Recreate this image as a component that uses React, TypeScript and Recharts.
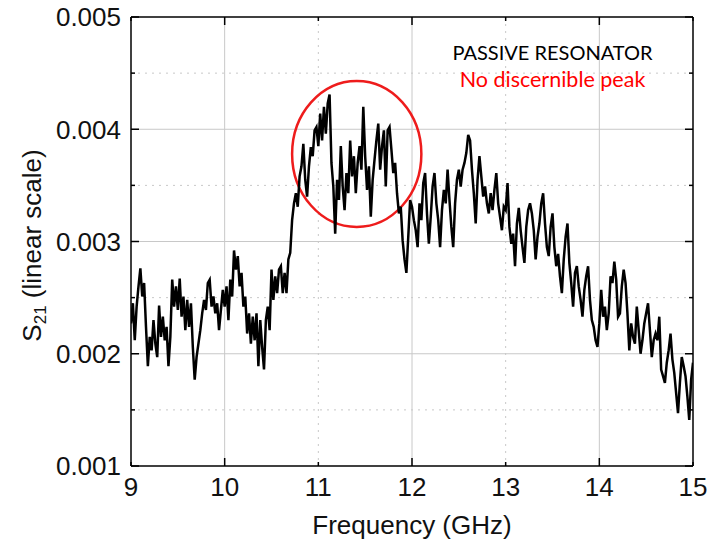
import React from "react";
import {
  LineChart,
  Line,
  XAxis,
  YAxis,
  CartesianGrid,
  ReferenceArea,
  ReferenceDot,
} from "recharts";

// sweep frequency (GHz)
const freq = [
  9.0, 9.02, 9.04, 9.06, 9.08, 9.1, 9.12, 9.14, 9.16, 9.18,
  9.2, 9.22, 9.24, 9.26, 9.28, 9.3, 9.32, 9.34, 9.36, 9.38,
  9.4, 9.42, 9.44, 9.46, 9.48, 9.5, 9.52, 9.54, 9.56, 9.58,
  9.6, 9.62, 9.64, 9.66, 9.68, 9.7, 9.72, 9.74, 9.76, 9.78,
  9.8, 9.82, 9.84, 9.86, 9.88, 9.9, 9.92, 9.94, 9.96, 9.98,
  10.0, 10.02, 10.04, 10.06, 10.08, 10.1, 10.12, 10.14, 10.16, 10.18,
  10.2, 10.22, 10.24, 10.26, 10.28, 10.3, 10.32, 10.34, 10.36, 10.38,
  10.4, 10.42, 10.44, 10.46, 10.48, 10.5, 10.52, 10.54, 10.56, 10.58,
  10.6, 10.62, 10.64, 10.66, 10.68, 10.7, 10.72, 10.74, 10.76, 10.78,
  10.8, 10.82, 10.84, 10.86, 10.88, 10.9, 10.92, 10.94, 10.96, 10.98,
  11.0, 11.02, 11.04, 11.06, 11.08, 11.1, 11.12, 11.14, 11.16, 11.18,
  11.2, 11.22, 11.24, 11.26, 11.28, 11.3, 11.32, 11.34, 11.36, 11.38,
  11.4, 11.42, 11.44, 11.46, 11.48, 11.5, 11.52, 11.54, 11.56, 11.58,
  11.6, 11.62, 11.64, 11.66, 11.68, 11.7, 11.72, 11.74, 11.76, 11.78,
  11.8, 11.82, 11.84, 11.86, 11.88, 11.9, 11.92, 11.94, 11.96, 11.98,
  12.0, 12.02, 12.04, 12.06, 12.08, 12.1, 12.12, 12.14, 12.16, 12.18,
  12.2, 12.22, 12.24, 12.26, 12.28, 12.3, 12.32, 12.34, 12.36, 12.38,
  12.4, 12.42, 12.44, 12.46, 12.48, 12.5, 12.52, 12.54, 12.56, 12.58,
  12.6, 12.62, 12.64, 12.66, 12.68, 12.7, 12.72, 12.74, 12.76, 12.78,
  12.8, 12.82, 12.84, 12.86, 12.88, 12.9, 12.92, 12.94, 12.96, 12.98,
  13.0, 13.02, 13.04, 13.06, 13.08, 13.1, 13.12, 13.14, 13.16, 13.18,
  13.2, 13.22, 13.24, 13.26, 13.28, 13.3, 13.32, 13.34, 13.36, 13.38,
  13.4, 13.42, 13.44, 13.46, 13.48, 13.5, 13.52, 13.54, 13.56, 13.58,
  13.6, 13.62, 13.64, 13.66, 13.68, 13.7, 13.72, 13.74, 13.76, 13.78,
  13.8, 13.82, 13.84, 13.86, 13.88, 13.9, 13.92, 13.94, 13.96, 13.98,
  14.0, 14.02, 14.04, 14.06, 14.08, 14.1, 14.12, 14.14, 14.16, 14.18,
  14.2, 14.22, 14.24, 14.26, 14.28, 14.3, 14.32, 14.34, 14.36, 14.38,
  14.4, 14.42, 14.44, 14.46, 14.48, 14.5, 14.52, 14.54, 14.56, 14.58,
  14.6, 14.62, 14.64, 14.66, 14.68, 14.7, 14.72, 14.74, 14.76, 14.78,
  14.8, 14.82, 14.84, 14.86, 14.88, 14.9, 14.92, 14.94, 14.96, 14.98,
  15.0,
];

// S21 magnitude, in units of 1e-3
const s21Milli = [
  2.27, 2.45, 2.12, 2.42, 2.6, 2.76, 2.51, 2.63, 2.24, 1.89,
  2.15, 2.03, 2.3, 2.09, 1.97, 2.43, 2.15, 2.33, 2.12, 2.24,
  1.89, 2.15, 2.66, 2.42, 2.6, 2.39, 2.67, 2.33, 2.51, 2.21,
  2.48, 2.24, 2.45, 2.06, 1.77, 1.97, 2.09, 2.21, 2.36, 2.48,
  2.39, 2.63, 2.66, 2.42, 2.51, 2.36, 2.45, 2.21, 2.39, 2.57,
  2.42, 2.6, 2.3, 2.66, 2.51, 2.92, 2.75, 2.87, 2.6, 2.72,
  2.42, 2.51, 2.18, 2.36, 2.09, 2.33, 2.12, 2.36, 1.89, 2.3,
  2.06, 1.86, 2.3, 2.42, 2.21, 2.75, 2.48, 2.69, 2.54, 2.75,
  2.78, 2.54, 2.72, 2.54, 2.84, 2.9, 3.19, 3.34, 3.43, 3.31,
  3.58, 3.67, 3.87, 3.55, 3.4, 3.67, 3.84, 3.76, 3.99, 4.02,
  3.85, 4.14, 3.9, 4.2, 3.96, 4.23, 4.31, 3.7, 3.49, 3.07,
  3.55, 3.37, 3.85, 3.49, 3.28, 3.61, 3.43, 3.9, 3.58, 3.76,
  3.43, 3.7, 3.85, 3.64, 4.2, 3.76, 3.46, 3.67, 3.22, 3.55,
  3.73, 3.9, 4.05, 3.64, 3.85, 3.99, 3.49, 3.99, 4.02, 3.82,
  3.61, 3.7, 3.43, 3.25, 3.31, 3.01, 2.84, 2.72, 3.04, 3.37,
  3.31, 3.19, 3.1, 2.95, 3.34, 3.19, 3.52, 3.61, 3.25, 2.98,
  3.22, 3.49, 3.61, 3.34, 3.19, 2.95, 3.28, 3.46, 3.34, 3.64,
  3.37, 3.13, 2.95, 3.34, 3.55, 3.64, 3.49, 3.64, 3.7, 3.79,
  3.95, 3.9, 3.64, 3.43, 3.16, 3.55, 3.76, 3.58, 3.4, 3.49,
  3.34, 3.25, 3.43, 3.28, 3.46, 3.61, 3.34, 3.22, 3.1, 3.31,
  3.28, 3.52, 3.13, 2.98, 3.07, 2.78, 3.16, 3.3, 3.1, 2.95,
  2.81, 3.13, 3.28, 3.34, 3.25, 3.1, 2.84, 3.04, 3.16, 3.34,
  3.43, 3.16, 2.95, 2.87, 3.13, 3.25, 2.95, 2.78, 2.89, 2.69,
  2.54, 2.84, 3.04, 3.16, 2.81, 2.63, 2.42, 2.72, 2.78, 2.6,
  2.48, 2.33, 2.57, 2.69, 2.78, 2.48, 2.3, 2.24, 2.12, 2.06,
  2.27, 2.57, 2.33, 2.42, 2.21, 2.36, 2.69, 2.63, 2.82, 2.66,
  2.33, 2.36, 2.6, 2.75, 2.63, 2.36, 2.03, 2.27, 2.15, 2.09,
  2.42, 2.21, 2.0, 2.12, 2.27, 2.36, 2.45, 2.21, 1.97, 2.12,
  2.18, 2.12, 2.33, 1.86, 1.8, 1.74, 1.92, 2.03, 2.18, 1.95,
  1.83, 1.65, 1.47, 1.74, 1.97, 1.89, 1.8, 1.62, 1.41, 1.77,
  1.92,
];

const xTicks = [9, 10, 11, 12, 13, 14, 15];
const yTicks = [0.001, 0.0015, 0.002, 0.0025, 0.003, 0.0035, 0.004, 0.0045, 0.005];
const xMajorGrid = [10, 12, 14];
const xMinorGrid = [11, 13];
const yMajorGrid = [0.002, 0.003, 0.004];
const yMinorGrid = [0.0015, 0.0025, 0.0035, 0.0045];

// red circle around the 11-12 GHz region
const circleBox = { x1: 10.72, x2: 12.1, y1: 0.00313, y2: 0.00443 };
const noteX = 13.5;
const noteTitle = "PASSIVE RESONATOR";
const noteSub = "No discernible peak";

const data = freq.map((f, i) => ({ freq: f, s21: s21Milli[i] / 1000 }));

const FONT = "'Liberation Sans', Arial, sans-serif";
const FS = 26;
const Y_GAP = 10;
const X_GAP = 12;
const MAJOR = 8;
const MINOR = 4;

const isMajorY = (v: number) => Math.abs(v * 1000 - Math.round(v * 1000)) < 1e-6;
const isMajorX = (v: number) => Math.round(v) % 2 === 0;

function LeftTick({ x, y, payload }: any) {
  const ax = x + Y_GAP;
  const major = isMajorY(payload.value);
  return (
    <g>
      <line x1={ax} x2={ax + (major ? MAJOR : MINOR)} y1={y} y2={y} stroke="#000" strokeWidth={1.5} />
      {major && (
        <text x={x} y={y} dy="0.36em" textAnchor="end" fontSize={FS} fontFamily={FONT} fill="#111">
          {payload.value.toFixed(3)}
        </text>
      )}
    </g>
  );
}

function RightTick({ x, y, payload }: any) {
  const major = isMajorY(payload.value);
  return <line x1={x} x2={x - (major ? MAJOR : MINOR)} y1={y} y2={y} stroke="#000" strokeWidth={1.5} />;
}

function BottomTick({ x, y, payload }: any) {
  const ay = y - X_GAP;
  const major = isMajorX(payload.value);
  return (
    <g>
      <line x1={x} x2={x} y1={ay} y2={ay - (major ? MAJOR : MINOR)} stroke="#000" strokeWidth={1.5} />
      <text x={x} y={y} dy="0.71em" textAnchor="middle" fontSize={FS} fontFamily={FONT} fill="#111">
        {payload.value}
      </text>
    </g>
  );
}

function TopTick({ x, y, payload }: any) {
  const major = isMajorX(payload.value);
  return <line x1={x} x2={x} y1={y} y2={y + (major ? MAJOR : MINOR)} stroke="#000" strokeWidth={1.5} />;
}

function XTitle({ viewBox }: any) {
  return (
    <text x={viewBox.x + viewBox.width / 2} y={viewBox.y + 68} textAnchor="middle" fontSize={FS} fontFamily={FONT} fill="#111">
      Frequency (GHz)
    </text>
  );
}

function YTitle({ viewBox }: any) {
  const cx = 41;
  const cy = viewBox.y + viewBox.height / 2 + 4;
  return (
    <text x={cx} y={cy} transform={`rotate(-90 ${cx} ${cy})`} textAnchor="middle" fontSize={FS} fontFamily={FONT} fill="#111">
      S<tspan fontSize={17} dy={5}>21</tspan>
      <tspan dy={-5}> (linear scale)</tspan>
    </text>
  );
}

export default function App() {
  return (
    <div style={{ position: "absolute", left: 0, top: 0, background: "#fff" }}>
      <LineChart
        width={709}
        height={544}
        data={data}
        margin={{ top: 0, right: 0, bottom: 0, left: 0 }}
        style={{ fontFamily: FONT }}
      >
        <CartesianGrid
          xAxisId="bottom"
          yAxisId="left"
          horizontalValues={yMajorGrid}
          verticalValues={xMajorGrid}
          stroke="#c8c8c8"
          strokeWidth={1}
        />
        <CartesianGrid
          xAxisId="bottom"
          yAxisId="left"
          horizontalValues={yMinorGrid}
          verticalValues={xMinorGrid}
          stroke="#c8c8c8"
          strokeWidth={1}
          strokeDasharray="2 5"
        />
        <XAxis
          xAxisId="bottom"
          dataKey="freq"
          type="number"
          domain={[9, 15]}
          ticks={xTicks}
          interval={0}
          allowDataOverflow
          height={78}
          tickSize={0}
          tickMargin={X_GAP}
          tick={<BottomTick />}
          axisLine={{ stroke: "#000", strokeWidth: 1.5 }}
          label={<XTitle />}
        />
        <XAxis
          xAxisId="top"
          dataKey="freq"
          orientation="top"
          type="number"
          domain={[9, 15]}
          ticks={xTicks}
          interval={0}
          allowDataOverflow
          height={17}
          tickSize={0}
          tickMargin={0}
          tick={<TopTick />}
          axisLine={{ stroke: "#000", strokeWidth: 1.5 }}
        />
        <YAxis
          yAxisId="left"
          type="number"
          domain={[0.001, 0.005]}
          ticks={yTicks}
          interval={0}
          allowDataOverflow
          width={131}
          tickSize={0}
          tickMargin={Y_GAP}
          tick={<LeftTick />}
          axisLine={{ stroke: "#000", strokeWidth: 1.5 }}
          label={<YTitle />}
        />
        <YAxis
          yAxisId="right"
          orientation="right"
          type="number"
          domain={[0.001, 0.005]}
          ticks={yTicks}
          interval={0}
          allowDataOverflow
          width={16}
          tickSize={0}
          tickMargin={0}
          tick={<RightTick />}
          axisLine={{ stroke: "#000", strokeWidth: 1.5 }}
        />
        <Line
          xAxisId="bottom"
          yAxisId="left"
          type="linear"
          dataKey="s21"
          stroke="#000"
          strokeWidth={2.5}
          strokeLinejoin="miter"
          dot={false}
          isAnimationActive={false}
        />
        <ReferenceArea
          xAxisId="bottom"
          yAxisId="left"
          x1={circleBox.x1}
          x2={circleBox.x2}
          y1={circleBox.y1}
          y2={circleBox.y2}
          shape={(p: any) => (
            <ellipse
              cx={p.x + p.width / 2}
              cy={p.y + p.height / 2}
              rx={p.width / 2}
              ry={p.height / 2}
              fill="none"
              stroke="#ee1c1c"
              strokeWidth={2.5}
            />
          )}
        />
        <ReferenceDot
          xAxisId="bottom"
          yAxisId="left"
          x={noteX}
          y={0.00462}
          r={0}
          shape={(p: any) => (
            <text x={p.cx} y={p.cy} textAnchor="middle" fontSize={20} fontFamily="Lato, sans-serif" fill="#000">
              {noteTitle}
            </text>
          )}
        />
        <ReferenceDot
          xAxisId="bottom"
          yAxisId="left"
          x={noteX}
          y={0.00438}
          r={0}
          shape={(p: any) => (
            <text x={p.cx} y={p.cy} textAnchor="middle" fontSize={21.5} fontFamily="Lato, sans-serif" fill="#ff0000">
              {noteSub}
            </text>
          )}
        />
      </LineChart>
    </div>
  );
}
